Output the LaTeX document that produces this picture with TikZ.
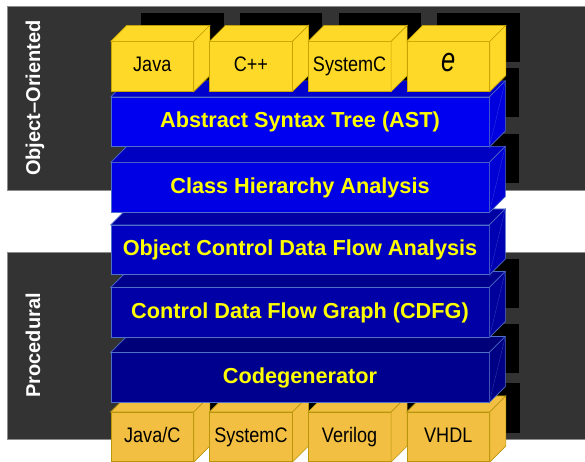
\documentclass[tikz,border=0pt]{standalone}
\usepackage{fontspec}
\setmainfont{Liberation Sans}
\usepackage{graphicx}
\usetikzlibrary{calc}
\definecolor{panel}{HTML}{333333}
\definecolor{panelline}{HTML}{8C8C8C}
\definecolor{ytop}{HTML}{FFD928}
\definecolor{ybot}{HTML}{F2BF42}
\definecolor{ytopline}{HTML}{C8A400}
\definecolor{ybotline}{HTML}{B8960A}
\definecolor{slabline}{HTML}{4F6FC8}
\definecolor{cast}{HTML}{0000F0}
\definecolor{ccha}{HTML}{0000E4}
\definecolor{cocdfa}{HTML}{0000C0}
\definecolor{ccdfg}{HTML}{0000A6}
\definecolor{ccode}{HTML}{00008E}
\definecolor{labelyellow}{HTML}{FFFF00}
\newcommand{\slabfaces}[2]{%
  \filldraw[fill=#2!85!black, draw=slabline, line width=0.6pt] (#1.north west) -- ++(16,-16) -- ($(#1.north east)+(16,-16)$) -- (#1.north east) -- cycle;
  \filldraw[fill=#2!93!black, draw=slabline, line width=0.6pt] (#1.north east) -- ++(16,-16) -- ($(#1.south east)+(16,-16)$) -- (#1.south east) -- cycle;
  \draw[slabline!50!#2, line width=0.4pt] (#1.south east) -- ($(#1.north east)+(16,-16)$);
}
\newcommand{\boxfaces}[3]{%
  \filldraw[fill=#2, draw=#3, line width=0.6pt] (#1.north west) -- ++(16,-16) -- ($(#1.north east)+(16,-16)$) -- (#1.north east) -- cycle;
  \filldraw[fill=#2, draw=#3, line width=0.6pt] (#1.north east) -- ++(16,-16) -- ($(#1.south east)+(16,-16)$) -- (#1.south east) -- cycle;
}
\tikzset{
  slabbox/.style={draw=slabline, line width=0.6pt, minimum width=378pt, minimum height=49.5pt, inner sep=0pt,
    text=labelyellow, font=\fontsize{21.7}{26}\selectfont\bfseries, text height=15.7pt, text depth=4.5pt},
  langbox/.style={line width=0.6pt, minimum width=82.5pt, minimum height=49.5pt, inner sep=0pt,
    text=black, font=\fontsize{21}{25}\selectfont, text height=15pt, text depth=4pt},
  topbox/.style={langbox, fill=ytop, draw=ytopline},
  botbox/.style={langbox, fill=ybot, draw=ybotline},
  sidelabel/.style={rotate=90, text=white, font=\fontsize{20}{24}\selectfont\bfseries, text height=14.3pt, text depth=4.2pt, inner sep=0pt},
  shadowrect/.style={fill=black}
}
\begin{document}
\begin{tikzpicture}[x=1pt,y=-1pt]
\useasboundingbox (0,0) rectangle (585,462);
% panels
\filldraw[fill=panel, draw=panelline, line width=0.6pt] (7,6) rectangle (586,190);
\filldraw[fill=panel, draw=panelline, line width=0.6pt] (7,252) rectangle (586,439);
% shadows clipped to panels
\begin{scope}
  \clip (7,6) rectangle (585,190) (7,252) rectangle (585,439);
  \foreach \i in {0,1,2,3} {
    \fill[shadowrect] ({141.25+98.67*\i},13) rectangle ++(82.5,49.5);
    \fill[shadowrect] ({141.25+98.67*\i},383) rectangle ++(82.5,50);
  }
  \fill[shadowrect] (141,68) rectangle (519,117.5);
  \fill[shadowrect] (141,134) rectangle (519,183.5);
  \fill[shadowrect] (141,197) rectangle (519,245);
  \fill[shadowrect] (141,259) rectangle (519,308);
  \fill[shadowrect] (141,324) rectangle (519,373);
\end{scope}
% side labels
\node[sidelabel] (oo) at (35,98) {Object–Oriented};
\node[sidelabel] (proc) at (35,345.5) {Procedural};
% bottom language boxes
\node[botbox] (javac) at (152.25,437) {\scalebox{0.86}[1]{Java/C}};
\boxfaces{javac}{ybot}{ybotline}
\node[botbox] (sysc2) at (250.92,437) {\scalebox{0.86}[1]{SystemC}};
\boxfaces{sysc2}{ybot}{ybotline}
\node[botbox] (verilog) at (349.58,437) {\scalebox{0.86}[1]{Verilog}};
\boxfaces{verilog}{ybot}{ybotline}
\node[botbox] (vhdl) at (448.25,437) {\scalebox{0.86}[1]{VHDL}};
\boxfaces{vhdl}{ybot}{ybotline}
% slabs, bottom to top
\node[slabbox, fill=ccode] (code) at (300,377.5) {Codegenerator};
\slabfaces{code}{ccode}
\node[slabbox, fill=ccdfg] (cdfg) at (300,312.5) {Control Data Flow Graph (CDFG)};
\slabfaces{cdfg}{ccdfg}
\node[slabbox, fill=cocdfa] (ocdfa) at (300,250) {Object Control Data Flow Analysis};
\slabfaces{ocdfa}{cocdfa}
\node[slabbox, fill=ccha] (cha) at (300,187.5) {Class Hierarchy Analysis};
\slabfaces{cha}{ccha}
\node[slabbox, fill=cast] (ast) at (300,122) {Abstract Syntax Tree (AST)};
\slabfaces{ast}{cast}
% top language boxes
\node[topbox] (java) at (152.25,66.5) {\scalebox{0.86}[1]{Java}};
\boxfaces{java}{ytop}{ytopline}
\node[topbox] (cpp) at (250.92,66.5) {\scalebox{0.86}[1]{C++}};
\boxfaces{cpp}{ytop}{ytopline}
\node[topbox] (sysc) at (349.58,66.5) {\scalebox{0.86}[1]{SystemC}};
\boxfaces{sysc}{ytop}{ytopline}
\node[topbox] (elang) at (448.25,66.5) {\scalebox{0.75}[1]{\fontsize{34}{36}\selectfont\itshape e}};
\boxfaces{elang}{ytop}{ytopline}
\end{tikzpicture}
\end{document}
